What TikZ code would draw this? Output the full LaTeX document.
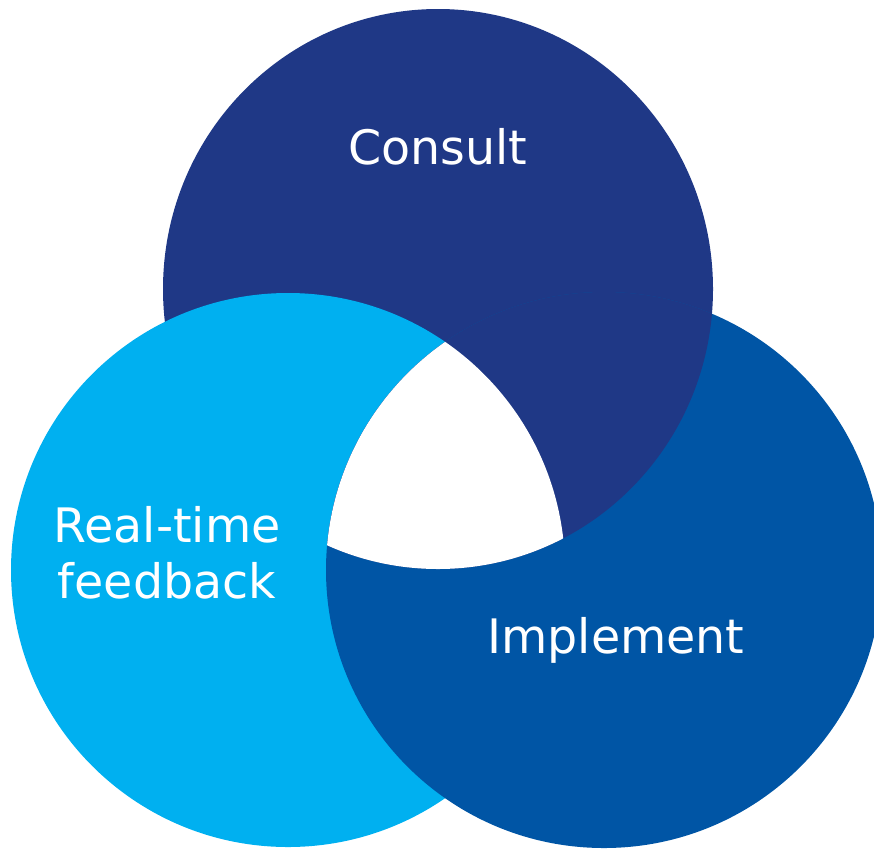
\documentclass[tikz,border=0pt]{standalone}
\usepackage{fontspec}
\setmainfont{DejaVu Sans}
\definecolor{consultblue}{HTML}{1F3886}
\definecolor{implblue}{HTML}{0055A5}
\definecolor{feedblue}{HTML}{00B0F0}
\begin{document}
\begin{tikzpicture}[x=1pt,y=-1pt,
  lbl/.style={text=white, font=\fontsize{47.5}{56}\selectfont, align=center, inner sep=0pt},
  consultdisc/.style={insert path={(438,289) ellipse [x radius=275, y radius=280]}},
  feeddisc/.style={insert path={(288,570) circle [radius=277]}},
  impldisc/.style={insert path={(604,570) circle [radius=278]}}]
\useasboundingbox (0,0) rectangle (874,852);
\clip (0,0) rectangle (874,852);
% three discs, each lying over the next in turn
\fill[consultblue, consultdisc];
\fill[feedblue, feeddisc];
\fill[implblue, impldisc];
\begin{scope}
  \clip[impldisc];
  \fill[consultblue, consultdisc];
\end{scope}
% the region shared by all three stays empty
\begin{scope}
  \clip[impldisc];
  \clip[consultdisc];
  \fill[white, feeddisc];
\end{scope}
% labels
\node[lbl] (consult) at (438,147) {Consult};
\node[lbl] (implement) at (616,640) {Implement};
\node[lbl] (feedback) at (167,553) {Real-time\\feedback};
\end{tikzpicture}
\end{document}
